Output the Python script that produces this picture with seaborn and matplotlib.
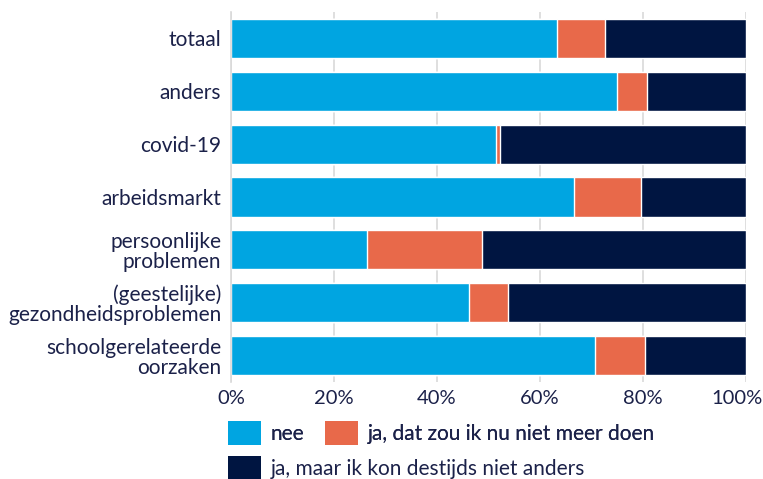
import numpy as np
import matplotlib.pyplot as plt
import matplotlib.transforms as mtrans
import seaborn as sns
import pandas as pd
from matplotlib.patches import Patch

# ==========================================
# data (percentages)
# ==========================================
categories = ['totaal', 'anders', 'covid-19', 'arbeidsmarkt',
              'persoonlijke\nproblemen', '(geestelijke)\ngezondheidsproblemen',
              'schoolgerelateerde\noorzaken']
nee = [63.3, 75.0, 51.4, 66.6, 26.4, 46.2, 70.7]
ja_niet_meer = [9.3, 5.8, 0.8, 13.0, 22.4, 7.6, 9.7]
ja_niet_anders = [27.4, 19.2, 47.8, 20.4, 51.2, 46.2, 19.6]

series_names = ['nee', 'ja, dat zou ik nu niet meer doen', 'ja, maar ik kon destijds niet anders']
colors = ['#00A5E1', '#E8694A', '#001541']
text_color = '#1B2149'
x_ticks = [0, 20, 40, 60, 80, 100]

df = pd.DataFrame({'categorie': categories, series_names[0]: nee,
                   series_names[1]: ja_niet_meer, series_names[2]: ja_niet_anders})

sns.set_theme(style='white')
plt.rcParams['font.family'] = ['Lato', 'DejaVu Sans']
FS = 15

fig = plt.figure(figsize=(7.63, 4.79), dpi=100)
ax = fig.add_axes([231 / 763, 1 - 382 / 479, 515 / 763, 370 / 479])

# stacked horizontal bars, each layer drawn by seaborn on top of the cumulative sum
left = np.zeros(len(categories))
cums = []
for name in series_names:
    left = left + df[name].values
    cums.append(left.copy())
for name, col, cum in reversed(list(zip(series_names, colors, cums))):
    plot_df = pd.DataFrame({'categorie': categories, 'waarde': cum})
    sns.barplot(data=plot_df, x='waarde', y='categorie', order=categories,
                color=col, width=0.74, ax=ax, saturation=1, zorder=2)

ax.set_xlim(0, 100)
ax.set_ylim(6.5, -0.5)
ax.set_xticks(x_ticks)
ax.set_xticklabels([f'{v}%' for v in x_ticks])
ax.set_xlabel('')
ax.set_ylabel('')
ax.grid(axis='x', color='#D9D9D9', linewidth=1.2, zorder=0)
ax.set_axisbelow(True)
for s in ['top', 'right', 'bottom']:
    ax.spines[s].set_visible(False)
ax.spines['left'].set_color('#D9D9D9')
ax.spines['left'].set_linewidth(1.2)
ax.tick_params(axis='both', length=0, colors=text_color)
ax.tick_params(axis='y', pad=7, labelsize=FS)
ax.tick_params(axis='x', pad=6, labelsize=14.5)
for lab in ax.get_yticklabels():
    lab.set_linespacing(1.0)
    lab.set_horizontalalignment('right')

# last tick label sits pulled in from the right edge, as in the original
last = ax.get_xticklabels()[-1]
last.set_transform(last.get_transform() + mtrans.ScaledTranslation(-0.09, 0, fig.dpi_scale_trans))

# legend: two rows, left aligned under the axis
h = [Patch(facecolor=c, edgecolor='none') for c in colors]
leg_kw = dict(frameon=False, fontsize=FS, handlelength=1.6, handleheight=1.4,
              handletextpad=0.45, labelcolor=text_color, borderaxespad=0, borderpad=0)
leg1 = fig.legend(h[:2], series_names[:2], loc='upper left', bbox_to_anchor=(228 / 763, 1 - 421 / 479),
                  ncol=2, columnspacing=1.0, **leg_kw)
leg2 = fig.legend(h[2:], series_names[2:], loc='upper left', bbox_to_anchor=(228 / 763, 1 - 456 / 479),
                  ncol=1, **leg_kw)
fig.add_artist(leg1)

fig.savefig('out.png', dpi=100, facecolor='white')
